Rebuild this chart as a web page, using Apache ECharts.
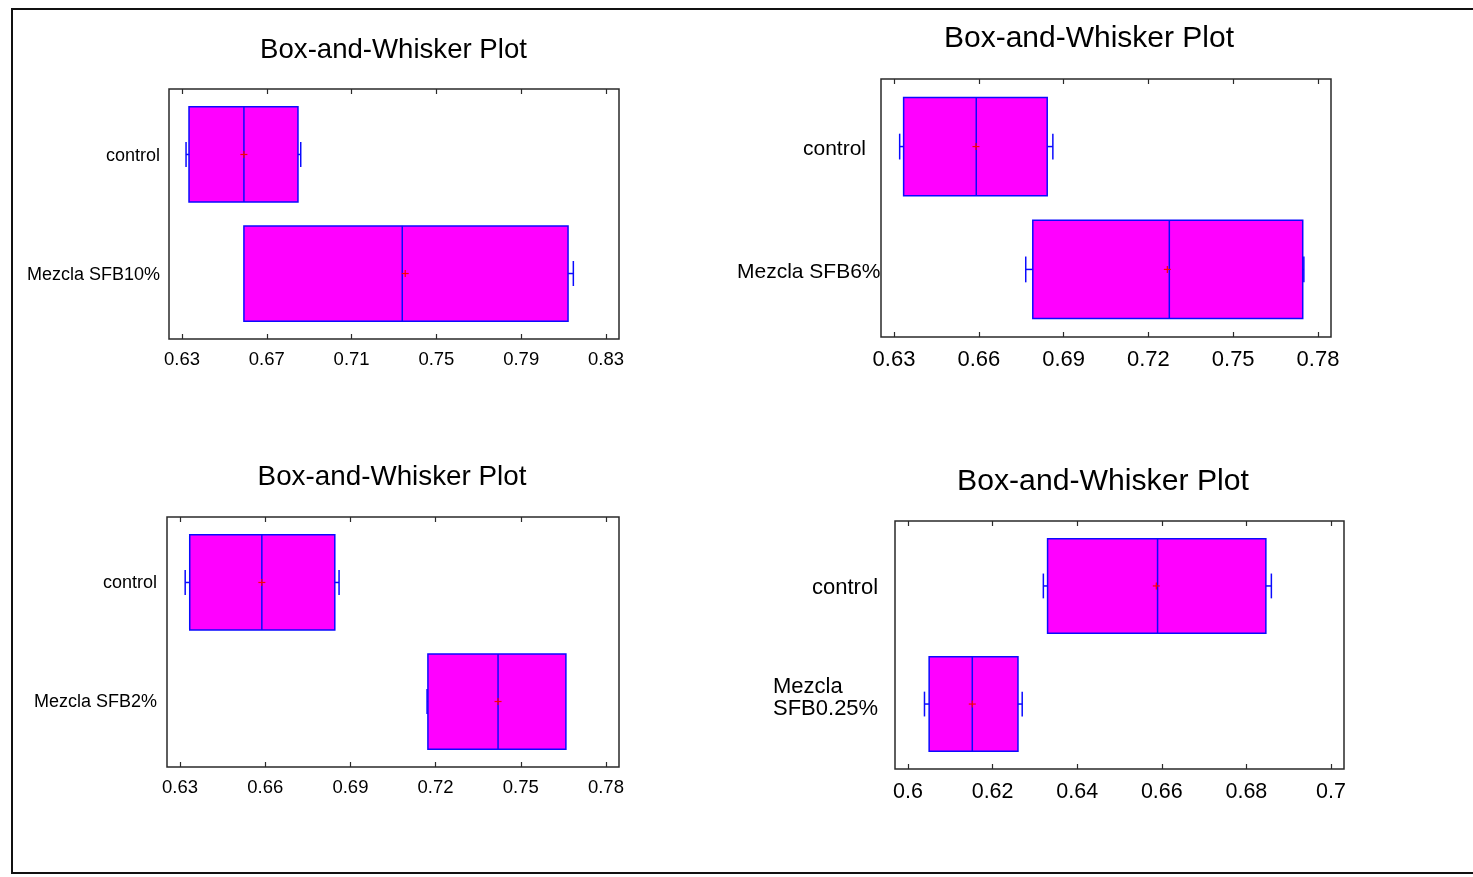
<!DOCTYPE html>
<html>
<head>
<meta charset="utf-8">
<script src="https://cdn.jsdelivr.net/npm/echarts@6/dist/echarts.min.js"></script>
<style>
  html, body { margin: 0; padding: 0; background: #ffffff; }
  #chart { width: 1473px; height: 877px; }
</style>
</head>
<body>
<div id="chart"></div>
<script>
// Box statistics per group, each row: [min, Q1, median, Q3, max]
const sfb10Categories = ['control', 'Mezcla SFB10%'];
const sfb10Stats = [
  [0.6319, 0.6333, 0.6592, 0.6847, 0.6860],
  [0.6592, 0.6592, 0.7339, 0.8121, 0.8146]
];
const sfb10Means = [0.6592, 0.7353];
const sfb10Ticks = [0.63, 0.67, 0.71, 0.75, 0.79, 0.83];

const sfb6Categories = ['control', 'Mezcla SFB6%'];
const sfb6Stats = [
  [0.6320, 0.6334, 0.6591, 0.6842, 0.6862],
  [0.6766, 0.6791, 0.7274, 0.7746, 0.7750]
];
const sfb6Means = [0.6590, 0.7267];
const sfb6Ticks = [0.63, 0.66, 0.69, 0.72, 0.75, 0.78];

const sfb2Categories = ['control', 'Mezcla SFB2%'];
const sfb2Stats = [
  [0.6318, 0.6334, 0.6588, 0.6845, 0.6860],
  [0.7170, 0.7173, 0.7420, 0.7659, 0.7659]
];
const sfb2Means = [0.6588, 0.7420];
const sfb2Ticks = [0.63, 0.66, 0.69, 0.72, 0.75, 0.78];

const sfb025Categories = ['control', 'Mezcla\nSFB0.25%'];
const sfb025Stats = [
  [0.6320, 0.6330, 0.6590, 0.6846, 0.6859],
  [0.6039, 0.6050, 0.6152, 0.6260, 0.6270]
];
const sfb025Means = [0.6587, 0.6152];
const sfb025Ticks = [0.6, 0.62, 0.64, 0.66, 0.68, 0.7];

const titleText = 'Box-and-Whisker Plot';
const FONT = '"Liberation Sans", Arial, Helvetica, sans-serif';

// Layout of the four plot panels
const panels = [
  { categories: sfb10Categories, stats: sfb10Stats, means: sfb10Means, ticks: sfb10Ticks,
    grid: { left: 169, top: 89, width: 450, height: 250 },
    title: { x: 393.5, y: 36, size: 27.6 }, tickFont: 18.5, tickMargin: 11, catFont: 18, catMargin: 8,
    catRightPad: [0, 0], catGap: [0, 0], catShift: 2 },
  { categories: sfb6Categories, stats: sfb6Stats, means: sfb6Means, ticks: sfb6Ticks,
    grid: { left: 881, top: 79, width: 450, height: 258 },
    title: { x: 1089, y: 24, size: 30 }, tickFont: 22, tickMargin: 12, catFont: 21, catMargin: 0,
    catRightPad: [14, 0], catGap: [0, 0], catShift: 3 },
  { categories: sfb2Categories, stats: sfb2Stats, means: sfb2Means, ticks: sfb2Ticks,
    grid: { left: 167, top: 517, width: 452, height: 250 },
    title: { x: 392, y: 463, size: 27.8 }, tickFont: 18.5, tickMargin: 11, catFont: 18, catMargin: 9,
    catRightPad: [0, 0], catGap: [0, 0], catShift: 1 },
  { categories: sfb025Categories, stats: sfb025Stats, means: sfb025Means, ticks: sfb025Ticks,
    grid: { left: 895, top: 521, width: 449, height: 248 },
    title: { x: 1103, y: 467, size: 30.2 }, tickFont: 21.5, tickMargin: 12, catFont: 22, catMargin: 16,
    catRightPad: [0, 0], catGap: [0, 16], catShift: 2 }
];

const measureCtx = document.createElement('canvas').getContext('2d');
function textWidth(str, size) {
  measureCtx.font = size + 'px ' + FONT;
  return measureCtx.measureText(str).width;
}

function fmtTick(v) {
  return String(+Number(v).toFixed(2));
}

// Draws one horizontal box: whiskers with short caps, box, median and mean marker
function renderBox(params, api) {
  const yv = api.value(6);
  const lo = api.value(0), q1 = api.value(1), med = api.value(2), q3 = api.value(3), hi = api.value(4), mean = api.value(5);
  const yc = api.coord([q1, yv])[1];
  const xLo = api.coord([lo, yv])[0];
  const xQ1 = api.coord([q1, yv])[0];
  const xMed = api.coord([med, yv])[0];
  const xQ3 = api.coord([q3, yv])[0];
  const xHi = api.coord([hi, yv])[0];
  const xMean = api.coord([mean, yv])[0];
  const boxH = api.size([0, 0.8])[1];
  const capH = api.size([0, 0.21])[1];
  const blue = '#0a0aff';
  const lineStyle = { stroke: blue, lineWidth: 1.5, fill: null };
  const children = [];
  if (xQ1 - xLo > 0.3) {
    children.push({ type: 'line', shape: { x1: xLo, y1: yc, x2: xQ1, y2: yc }, style: lineStyle });
    children.push({ type: 'line', shape: { x1: xLo, y1: yc - capH / 2, x2: xLo, y2: yc + capH / 2 }, style: lineStyle });
  }
  if (xHi - xQ3 > 0.3) {
    children.push({ type: 'line', shape: { x1: xQ3, y1: yc, x2: xHi, y2: yc }, style: lineStyle });
    children.push({ type: 'line', shape: { x1: xHi, y1: yc - capH / 2, x2: xHi, y2: yc + capH / 2 }, style: lineStyle });
  }
  children.push({
    type: 'rect',
    shape: { x: xQ1, y: yc - boxH / 2, width: xQ3 - xQ1, height: boxH },
    style: { fill: '#ff00ff', stroke: blue, lineWidth: 1.5 }
  });
  children.push({ type: 'line', shape: { x1: xMed, y1: yc - boxH / 2, x2: xMed, y2: yc + boxH / 2 }, style: lineStyle });
  const m = 3.5;
  const red = { stroke: '#ff0000', lineWidth: 1.2, fill: null };
  children.push({ type: 'line', shape: { x1: xMean - m, y1: yc, x2: xMean + m, y2: yc }, style: red });
  children.push({ type: 'line', shape: { x1: xMean, y1: yc - m, x2: xMean, y2: yc + m }, style: red });
  return { type: 'group', children: children };
}

const grids = [], xAxes = [], yAxes = [], series = [], titles = [];

panels.forEach(function (p, i) {
  grids.push(Object.assign({ show: true, borderColor: '#2a2a2a', borderWidth: 1.5, backgroundColor: 'transparent', containLabel: false }, p.grid));

  const first = p.ticks[0], last = p.ticks[p.ticks.length - 1];
  const pad = 0.0307 * (last - first);
  const xMin = first - pad, xMax = last + pad;
  const tickStyle = { color: '#2a2a2a', width: 1.2 };

  // bottom axis with labels
  xAxes.push({
    type: 'value', gridIndex: i, position: 'bottom', min: xMin, max: xMax,
    axisLine: { show: false, onZero: false }, splitLine: { show: false },
    axisTick: { show: true, inside: true, length: 5, customValues: p.ticks, lineStyle: tickStyle },
    axisLabel: { show: true, customValues: p.ticks, margin: p.tickMargin, color: '#000', fontFamily: FONT, fontSize: p.tickFont, formatter: fmtTick }
  });
  // top axis, ticks only
  xAxes.push({
    type: 'value', gridIndex: i, position: 'top', min: xMin, max: xMax,
    axisLine: { show: false, onZero: false }, splitLine: { show: false },
    axisTick: { show: true, inside: true, length: 5, customValues: p.ticks, lineStyle: tickStyle },
    axisLabel: { show: false }
  });

  // category labels as rich text (multi-line labels keep their lines left-aligned)
  const rich = {};
  p.categories.forEach(function (c, k) {
    const lines = c.split('\n');
    const w = Math.max.apply(null, lines.map(function (s) { return textWidth(s, p.catFont); }));
    rich['l' + k] = {
      fontFamily: FONT, fontSize: p.catFont, color: '#000', lineHeight: p.catFont,
      width: Math.ceil(w), align: 'left', padding: [0, p.catRightPad[k], 0, 0]
    };
    rich['g' + k] = { fontFamily: FONT, fontSize: 4, lineHeight: p.catGap[k] || 1, color: 'transparent' };
  });
  yAxes.push({
    type: 'value', gridIndex: i, inverse: true, min: -0.55, max: 1.55,
    axisLine: { show: false, onZero: false }, axisTick: { show: false }, splitLine: { show: false },
    axisLabel: {
      show: true, margin: p.catMargin, customValues: p.categories.map(function (c, k) { return k; }),
      padding: [p.catShift * 2, 0, 0, 0],
      formatter: function (v) {
        const k = Math.round(v);
        let s = p.categories[k].split('\n').map(function (line) {
          return '{l' + k + '|' + line + '}';
        }).join('\n');
        if (p.catGap[k]) s += '\n{g' + k + '| }';
        return s;
      },
      rich: rich
    }
  });

  const data = p.stats.map(function (s, k) {
    return [s[0], s[1], s[2], s[3], s[4], p.means[k], k];
  });
  series.push({
    type: 'custom', xAxisIndex: 2 * i, yAxisIndex: i,
    renderItem: renderBox,
    encode: { x: [0, 4], y: 6 },
    data: data,
    clip: false, silent: true, animation: false
  });

  titles.push({
    text: titleText, left: p.title.x, top: p.title.y, textAlign: 'center', padding: 0,
    textStyle: { fontFamily: FONT, fontSize: p.title.size, fontWeight: 'normal', color: '#000' }
  });
});

const chart = echarts.init(document.getElementById('chart'), null, { renderer: 'canvas' });
chart.setOption({
  backgroundColor: '#ffffff',
  animation: false,
  title: titles,
  grid: grids,
  xAxis: xAxes,
  yAxis: yAxes,
  series: series,
  graphic: [{
    type: 'rect', silent: true, z: 100,
    shape: { x: 12, y: 9, width: 1480, height: 864 },
    style: { fill: null, stroke: '#111', lineWidth: 2 }
  }]
});
</script>
</body>
</html>
